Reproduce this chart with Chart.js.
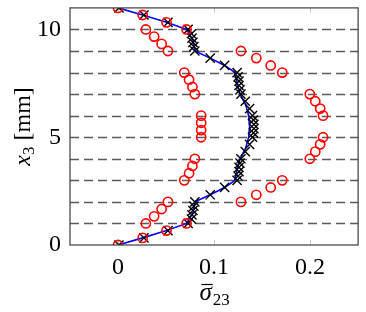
<!DOCTYPE html>
<html>
<head>
<meta charset="utf-8">
<script src="https://cdn.jsdelivr.net/npm/chart.js@4"></script>
<style>
  html, body { margin: 0; padding: 0; background: #fff; }
  #wrap { width: 366px; height: 312px; }
</style>
</head>
<body>
<div id="wrap"><canvas id="myChart" width="366" height="312"></canvas></div>
<script>
// red circles (one group of 4 per layer, bottom to top)
const circX = [
    0, 0.0257, 0.0505, 0.0714,
    0.029, 0.0376, 0.0454, 0.052,
    0.128, 0.144, 0.159, 0.171,
    0.069, 0.074, 0.0775, 0.080,
    0.1997, 0.2054, 0.2105, 0.2135,
    0.0866, 0.0866, 0.0866, 0.0866,
    0.2135, 0.2105, 0.2054, 0.1997,
    0.080, 0.0775, 0.074, 0.069,
    0.171, 0.159, 0.144, 0.128,
    0.052, 0.0454, 0.0376, 0.029,
    0.0714, 0.0505, 0.0257, 0
];
const circY = [
    0, 0.33, 0.67, 1,
    1, 1.33, 1.67, 2,
    2, 2.33, 2.67, 3,
    3, 3.33, 3.67, 4,
    4, 4.33, 4.67, 5,
    5, 5.33, 5.67, 6,
    6, 6.33, 6.67, 7,
    7, 7.33, 7.67, 8,
    8, 8.33, 8.67, 9,
    9, 9.33, 9.67, 10,
    10, 10.33, 10.67, 11
];

// black crosses
const crossX = [
    0.001, 0.027, 0.052, 0.073,
    0.0765, 0.077, 0.078, 0.079, 0.080,
    0.096, 0.111, 0.124,
    0.125, 0.126, 0.126, 0.127, 0.128,
    0.1325, 0.137, 0.140,
    0.141, 0.1415, 0.1415, 0.141, 0.140,
    0.137, 0.1325, 0.128,
    0.127, 0.126, 0.126, 0.125, 0.124,
    0.111, 0.096, 0.080,
    0.079, 0.078, 0.077, 0.0765, 0.073,
    0.052, 0.027, 0.001
];
const crossY = [
    0, 0.33, 0.67, 1,
    1.2, 1.4, 1.6, 1.8, 2,
    2.33, 2.67, 3,
    3.2, 3.4, 3.6, 3.8, 4,
    4.33, 4.67, 5,
    5.2, 5.4, 5.6, 5.8, 6,
    6.33, 6.67, 7,
    7.2, 7.4, 7.6, 7.8, 8,
    8.33, 8.67, 9,
    9.2, 9.4, 9.6, 9.8, 10,
    10.33, 10.67, 11
];

// blue line
const lineX = [0, 0.0257, 0.0505, 0.0714, 0.078, 0.080, 0.096, 0.111, 0.122, 0.124, 0.127, 0.133, 0.136, 0.137,
               0.136, 0.133, 0.127, 0.124, 0.122, 0.111, 0.096, 0.080, 0.078, 0.0714, 0.0505, 0.0257, 0];
const lineY = [0, 0.33, 0.67, 1, 1.5, 2, 2.33, 2.67, 3, 3.5, 4, 4.5, 5, 5.5,
               6, 6.5, 7, 7.5, 8, 8.33, 8.67, 9, 9.5, 10, 10.33, 10.67, 11];

const xTicks = [0, 0.1, 0.2];
const yTicks = [0, 5, 10];
const layerLines = [1, 2, 3, 4, 5, 6, 7, 8, 9, 10];

const pts = (xs, ys) => xs.map((x, i) => ({ x: x, y: ys[i] }));

const serif = "'Liberation Serif', 'DejaVu Serif', serif";

// box, inner ticks and dashed layer lines
const frame = {
    id: 'frame',
    beforeDatasetsDraw(chart) {
        const { ctx, chartArea: a, scales: { x, y } } = chart;
        ctx.save();
        ctx.strokeStyle = '#5a5a5a';
        ctx.lineWidth = 1.4;
        ctx.setLineDash([9, 5]);
        layerLines.forEach(v => {
            const py = Math.round(y.getPixelForValue(v)) + 0.5;
            ctx.beginPath();
            ctx.moveTo(a.left, py);
            ctx.lineTo(a.right, py);
            ctx.stroke();
        });
        ctx.setLineDash([]);
        ctx.strokeStyle = '#c8c8c8';
        ctx.lineWidth = 1;
        xTicks.forEach(v => {
            const px = Math.round(x.getPixelForValue(v)) + 0.5;
            ctx.beginPath();
            ctx.moveTo(px, a.bottom); ctx.lineTo(px, a.bottom - 5);
            ctx.moveTo(px, a.top); ctx.lineTo(px, a.top + 5);
            ctx.stroke();
        });
        ctx.restore();
    },
    afterDraw(chart) {
        const { ctx, chartArea: a } = chart;
        ctx.save();
        ctx.strokeStyle = '#3c3c3c';
        ctx.lineWidth = 1.2;
        ctx.strokeRect(a.left, a.top, a.right - a.left, a.bottom - a.top);

        // x title: sigma-bar with subscript 23
        const cx = (a.left + a.right) / 2;
        ctx.fillStyle = '#000';
        ctx.textBaseline = 'alphabetic';
        ctx.font = 'italic 25px ' + serif;
        const wS = ctx.measureText('σ').width;
        ctx.font = '17px ' + serif;
        const wSub = ctx.measureText('23').width;
        const x0 = cx - (wS + wSub) / 2;
        ctx.font = 'italic 25px ' + serif;
        ctx.textAlign = 'left';
        ctx.fillText('σ', x0, 300);
        ctx.font = '17px ' + serif;
        ctx.fillText('23', x0 + wS + 1, 305);
        ctx.lineWidth = 1.2;
        ctx.strokeStyle = '#000';
        ctx.beginPath();
        ctx.moveTo(x0 + 2, 284.5);
        ctx.lineTo(x0 + wS + 1, 284.5);
        ctx.stroke();

        // y title: x_3 [mm], rotated
        ctx.save();
        ctx.font = 'italic 24px ' + serif;
        const wx = ctx.measureText('x').width;
        ctx.font = '17px ' + serif;
        const w3 = ctx.measureText('3').width;
        ctx.font = '24px ' + serif;
        const wmm = ctx.measureText(' [mm]').width;
        const total = wx + w3 + wmm;
        const cy = (a.top + a.bottom) / 2;
        ctx.translate(30, cy + total / 2);
        ctx.rotate(-Math.PI / 2);
        ctx.font = 'italic 24px ' + serif;
        ctx.fillText('x', 0, 0);
        ctx.font = '17px ' + serif;
        ctx.fillText('3', wx, 4);
        ctx.font = '24px ' + serif;
        ctx.fillText(' [mm]', wx + w3, 0);
        ctx.restore();
        ctx.restore();
    }
};

new Chart(document.getElementById('myChart'), {
    type: 'scatter',
    data: {
        datasets: [{
            label: 'circles',
            data: pts(circX, circY),
            showLine: false,
            pointStyle: 'circle',
            pointRadius: 4.6,
            borderColor: '#ff0000',
            backgroundColor: 'rgba(0,0,0,0)',
            borderWidth: 1.6
        }, {
            label: 'crosses',
            data: pts(crossX, crossY),
            showLine: false,
            pointStyle: 'crossRot',
            pointRadius: 6.5,
            borderColor: '#000000',
            borderWidth: 1.4
        }, {
            label: 'line',
            data: pts(lineX, lineY),
            showLine: true,
            pointRadius: 0,
            borderColor: '#0000ff',
            borderWidth: 1.6,
            tension: 0
        }]
    },
    options: {
        responsive: false,
        animation: false,
        layout: { padding: { top: 4, right: 1, left: 0, bottom: 0 } },
        plugins: {
            legend: { display: false },
            tooltip: { enabled: false }
        },
        scales: {
            x: {
                min: -0.05,
                max: 0.25,
                afterBuildTicks: s => { s.ticks = xTicks.map(v => ({ value: v })); },
                ticks: {
                    callback: v => String(v),
                    font: { family: serif, size: 24 },
                    color: '#000',
                    padding: 8,
                    maxRotation: 0
                },
                grid: { display: false, drawTicks: false },
                border: { display: false },
                afterFit: s => {
                    s.height = 67;
                    s.paddingLeft = 0;
                    s.paddingRight = 0;
                }
            },
            y: {
                min: 0,
                max: 11,
                afterBuildTicks: s => { s.ticks = yTicks.map(v => ({ value: v })); },
                ticks: {
                    callback: v => String(v),
                    font: { family: serif, size: 24 },
                    color: '#000',
                    padding: 9
                },
                grid: { display: false, drawTicks: false },
                border: { display: false },
                afterFit: s => {
                    s.width = 70;
                    s.paddingTop = 0;
                    s.paddingBottom = 0;
                }
            }
        }
    },
    plugins: [frame]
});
</script>
</body>
</html>
